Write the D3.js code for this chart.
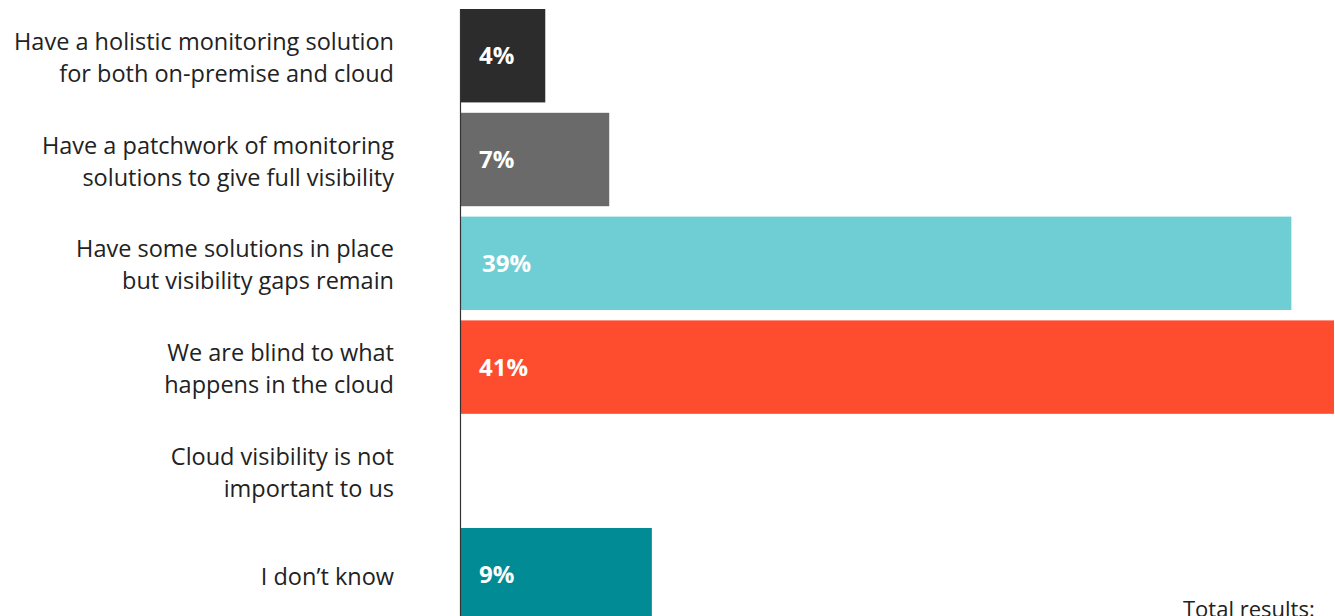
<!DOCTYPE html>
<html><head><meta charset="utf-8">
<script src="https://cdn.jsdelivr.net/npm/d3@7"></script>
<style>body{margin:0;background:#fff;overflow:hidden}</style>
</head><body>
<svg id="c" width="1335" height="616"></svg>
<script>
const categories = [
  ["Have a holistic monitoring solution","for both on-premise and cloud"],
  ["Have a patchwork of monitoring","solutions to give full visibility"],
  ["Have some solutions in place","but visibility gaps remain"],
  ["We are blind to what","happens in the cloud"],
  ["Cloud visibility is not","important to us"],
  ["I don\u2019t know"]
];
const values = [4, 7, 39, 41, 0, 9];
const colors = ["#2c2c2c", "#6a6a6a", "#6fcdd4", "#fd4c2e", "#cccccc", "#008b95"];
const footnote = "Total results:";

const svg = d3.select("#c");
const ids = d3.range(categories.length);
const x = d3.scaleLinear().domain([0, 41]).range([460, 1334]);
const y = d3.scaleBand().domain(ids).range([9, 621.4]).paddingInner(0.1).paddingOuter(0);

svg.selectAll("rect.bar").data(ids).join("rect")
  .attr("class","bar")
  .attr("x", x(0)).attr("y", i => y(i))
  .attr("width", i => x(values[i]) - x(0))
  .attr("height", y.bandwidth())
  .attr("fill", i => colors[i]);

svg.append("line").attr("x1", 460.5).attr("x2", 460.5).attr("y1", 9).attr("y2", 616)
  .attr("stroke", "#333").attr("stroke-width", 1.2);

svg.selectAll("text.val").data(ids.filter(i => values[i] > 0)).join("text")
  .attr("class","val")
  .attr("x", i => x(0) + (values[i] >= 10 && values[i] < 40 ? 22 : 19))
  .attr("y", i => y(i) + y.bandwidth()/2 + 8.5)
  .attr("fill", "#fff").attr("font-family", "'Open Sans', sans-serif").attr("font-weight", 700)
  .attr("font-size", 24)
  .text(i => values[i] + "%");

const lh = 32;
const g = svg.selectAll("text.cat").data(ids).join("text")
  .attr("class","cat")
  .attr("text-anchor","end")
  .attr("font-family","'Open Sans', sans-serif").attr("font-size", 23.5).attr("fill","#222");
g.each(function(i){
  const lines = categories[i];
  const cy = y(i) + y.bandwidth()/2;
  const first = cy + 10 - (lines.length-1)*lh/2;
  d3.select(this).selectAll("tspan").data(lines).join("tspan")
    .attr("x", 394).attr("y", (d,k) => first + k*lh).text(d => d);
});

svg.append("text").attr("x", 1183).attr("y", 617).attr("font-family","'Open Sans', sans-serif")
  .attr("font-size", 22).attr("fill","#222").text(footnote);
</script>
</body></html>
